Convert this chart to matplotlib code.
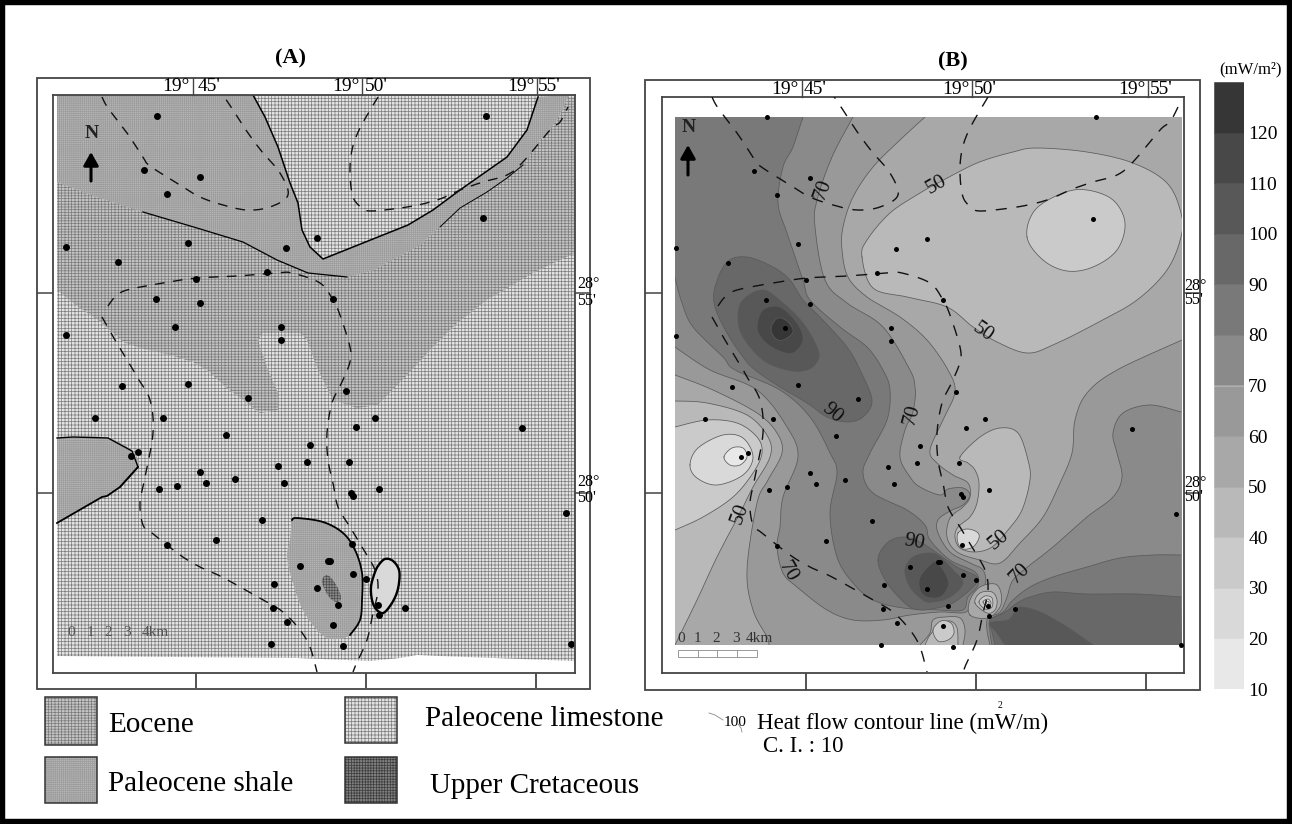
import numpy as np
import matplotlib
matplotlib.use("Agg")
import matplotlib.pyplot as plt
from matplotlib.patches import Polygon, Rectangle

plt.rcParams['font.family'] = ['Liberation Serif', 'DejaVu Serif']
plt.rcParams['hatch.linewidth'] = 0.5

# ---- map grid data (sheet grid units) ----
WELL_X = [157,144,200,167,317,286,188,66,118,267,196,156,200,175,281,281,66,486,483,333,122,188,248,95,163,226,
          310,307,278,138,131,200,206,235,284,159,177,262,216,167,300,274,317,273,287,271,328,346,375,356,522,
          349,379,351,353,566,352,330,353,366,338,378,379,405,333,343,571]
WELL_Y = [116,170,177,194,238,248,243,247,262,272,279,299,303,327,327,340,335,116,218,299,386,384,398,418,418,435,
          445,462,466,452,456,472,483,479,483,489,486,520,540,545,566,584,588,608,622,644,561,391,418,427,428,
          462,489,493,496,513,544,561,574,579,605,605,615,608,625,646,644]

DASH_1 = [(102,97),(108,108),(127,133),(143,157),(150,166),(180,185),(200,197),(223,205),(247,210),(270,207),(288,195),
          (280,173),(263,153),(248,133),(235,113),(223,95)]
DASH_2 = [(378,97),(360,128),(352,150),(350,173),(353,197),(362,208),(370,211),(393,209),(418,205),(440,199),(460,190),
          (483,182),(507,175),(523,162),(550,130),(560,122),(568,107)]
DASH_3 = [(108,306),(115,297),(127,290),(163,283),(197,278),(237,276),(277,273),(292,273),(320,283),(333,300),(340,315),
          (350,347),(350,362),(342,382),(332,403),(327,433),(328,460),(333,483),(338,507),(350,527),(362,547),(375,570),
          (378,590),(373,613),(367,640),(357,662),(353,672)]
DASH_4 = [(102,317),(115,340),(132,368),(137,377),(150,400),(153,433),(145,477),(140,503),(143,525),(152,533),(180,555),
          (200,567),(222,577),(263,600),(283,612),(300,630),(310,647),(317,672)]

LIME_OUT = [(57,95),(575,95),(575,661),(440,656),(417,655),(400,658),(370,661),(297,658),(57,656)]
EOC_TOP = [(57,182),(97,197),(143,212),(197,228),(243,242),(277,260),(308,273),(347,277),(373,270),(417,247),(440,227),
           (460,208),(487,192),(507,178),(523,165),(540,140),(557,120),(568,97)]
EOC_BOT = [(575,97),(575,253),(533,273),(487,300),(457,323),(430,350),(412,370),(378,405),(357,408),(333,400),(318,370),
           (307,340),(300,333),(263,333),(258,340),(268,370),(278,393),(278,410),(260,413),(227,388),(207,370),(193,362),
           (170,355),(140,348),(123,342),(102,323),(73,303),(57,290)]
SHALE_R = [(253,95),(265,117),(278,147),(290,183),(298,203),(302,230),(310,247),(323,259),(408,225),(433,210),(460,190),
           (507,157),(527,130),(538,97)]
SHALE_LOW = [(568,95),(568,97),(557,120),(540,140),(523,165),(507,178),(487,192),(460,208),(440,227),(417,247),(373,270),
             (347,277),(308,273),(277,260),(243,242),(197,228),(143,212),(97,197),(57,182)]
LAKE = [(57,438),(73,437),(108,438),(132,451),(138,467),(120,487),(107,496),(102,497),(57,523)]
CENTRE = [(292,520),(297,518),(323,522),(343,533),(355,550),(362,573),(362,600),(360,620),(350,635),(333,639),(320,633),
          (303,610),(293,583),(287,557),(290,540)]
CRET = [(322,580),(327,575),(335,583),(341,597),(337,602),(330,598),(324,588)]
OVAL = [(385,559),(393,561),(399,570),(399,583),(396,595),(390,606),(383,613),(376,609),(372,600),(371,587),(374,575),(378,566)]

# heat-flow contours (panel B grid)
C60_NE = [(1182,340),(1117,370),(1087,393),(1075,420),(1072,453),(1060,483),(1043,517),(1020,543),(1000,563),(980,560),
          (957,552),(947,537),(950,518),(963,507),(970,497),(968,483),(953,475),(937,463),(930,450),(943,420),(955,392),
          (948,370),(927,340),(900,317),(867,297),(848,277),(842,250),(843,227),(853,197),(873,167),(900,140),(925,117)]
C50_NE = [(862,257),(873,288),(907,297),(947,307),(973,327),(997,342),(1027,353),(1053,345),(1097,323),(1137,300),(1167,270),
          (1181,237),(1181,213),(1167,183),(1133,163),(1087,152),(1037,148),(1013,152),(977,163),(940,182),(920,193),(890,213),(867,240)]
C40_NE = [(1027,237),(1035,210),(1063,193),(1087,190),(1113,200),(1125,223),(1117,250),(1093,267),(1067,271),(1043,260)]
C70_W = [(853,117),(832,157),(817,200),(815,227),(825,280),(847,303),(883,327),(910,370),(915,387),(915,400),(912,415),(905,430),
         (900,457),(910,477),(920,487),(940,495),(948,489),(963,488),(970,495),(963,505),(950,511),(938,520),(938,533),(950,552),
         (970,563),(983,570),(985,585),(972,597),(966,612),(940,612),(910,615),(883,620),(853,620),(827,610),(797,587),(783,573),
         (777,547),(780,527),(783,497),(798,457),(787,427),(757,390),(710,370),(675,347)]
C80_W = [(803,117),(793,147),(783,167),(778,203),(787,233),(803,280),(810,300),(840,327),(867,347),(883,370),(890,390),(887,420),
         (870,453),(863,473),(873,493),(907,510),(925,525),(930,540),(950,560),(975,572),(978,585),(968,597),(963,610),(940,610),
         (903,608),(873,600),(853,583),(837,557),(830,513),(837,473),(830,453),(810,417),(780,390),(735,370),(723,357),(693,327),
         (682,303),(675,278)]
C90_NW = [(715,287),(715,307),(727,333),(743,357),(755,370),(780,387),(807,403),(827,417),(847,422),(863,417),(872,400),(860,370),
          (847,347),(820,317),(803,300),(790,280),(773,267),(747,257),(727,262)]
C100_NW = [(738,317),(743,300),(763,290),(783,303),(803,323),(817,347),(818,360),(807,370),(787,370),(763,360),(743,337)]
C110_NW = [(757,327),(763,310),(780,307),(797,323),(803,340),(793,353),(777,350),(763,340)]
C120_NW = [(771,328),(778,318),(788,322),(793,332),(783,340),(775,338)]
C90_S = [(878,560),(887,543),(903,537),(920,542),(937,553),(957,567),(977,577),(973,587),(953,603),(937,608),(920,610),(907,605),(887,583)]
C100_S = [(905,570),(913,557),(930,553),(940,557),(953,570),(963,583),(950,597),(933,602),(923,600),(910,587)]
C110_S = [(920,577),(930,565),(937,562),(947,577),(948,587),(940,597),(927,597),(920,590)]
C60_W = [(675,375),(713,390),(757,413),(777,433),(782,453),(768,480),(757,503),(747,570),(753,610),(767,637),(769,645)]
C50_W = [(675,401),(707,403),(747,415),(768,437),(770,457),(753,487),(740,513),(717,557),(697,600),(675,645)]
C40_W = [(675,427),(707,420),(737,423),(757,437),(762,453),(753,473),(733,497),(703,517),(675,530)]
C30_W = [(690,465),(698,448),(723,435),(743,438),(753,457),(743,475),(717,485),(697,478)]
C20_W = [(724,457),(732,448),(743,448),(747,457),(740,465),(730,465)]
C70_SE = [(1181,412),(1150,405),(1123,413),(1113,433),(1117,453),(1122,477),(1113,497),(1087,517),(1053,547),(1030,565),(1013,580),
          (1007,597),(1000,612),(988,618),(987,630),(990,645)]
C80_SE = [(1181,555),(1153,555),(1120,558),(1087,567),(1053,577),(1030,587),(1013,600),(1003,612),(990,620),(990,632),(992,645)]
C90_SE = [(1181,597),(1137,594),(1087,594),(1053,592),(1030,597),(1017,603),(1008,610),(1000,615),(990,620),(992,632),(995,645)]
C100_SE = [(1093,645),(1067,627),(1040,612),(1020,607),(1015,612),(1008,620),(990,623),(997,633),(1005,645)]
C50_C = [(960,457),(980,437),(1000,428),(1018,433),(1028,460),(1030,480),(1022,510),(1008,530),(992,547),(975,552),(960,548),
         (955,537),(958,527),(970,517),(977,503),(979,483),(975,470),(968,463)]
C40_C = [(958,533),(967,529),(977,532),(979,538),(973,547),(963,549),(958,543)]
RING_60 = [(970,615),(970,600),(980,587),(995,584),(1001,593),(1000,607),(988,618)]
RING_50 = [(975,603),(980,593),(992,592),(997,600),(995,610),(987,613)]
RING_40 = [(979,602),(985,596),(992,598),(992,607),(985,609)]
RING_30 = [(983,602),(988,599),(991,603),(988,607)]
RING_20 = [(986,602),(989,602),(988,605)]
C60_S = [(920,645),(930,633),(933,620),(945,617),(960,618),(965,630),(963,645)]
C50_S = [(925,645),(930,635),(940,625),(950,621),(957,628),(958,645)]
C40_S = [(933,630),(941,621),(951,623),(954,633),(948,640),(938,641)]

BAND_LOW = [10,20,30,40,50,60,70,80,90,100,110,120]
BAND_GREY = ['#e8e8e8','#d9d9d9','#cacaca','#b9b9b9','#a8a8a8','#999999','#8a8a8a','#797979','#686868','#585858','#484848','#363636']
CB_LABELS = [10,20,30,40,50,60,70,80,90,100,110,120]

CONTOUR_LABELS = [('70',823,190,70),('50',936,185,30),('50',983,332,-35),('90',832,413,-40),('70',912,415,75),
                  ('50',740,514,70),('70',788,572,-60),('90',914,542,-10),('50',999,540,40),('70',1020,573,45)]
TICK_A = [196,366,536]
TICK_Y = [293,493]
SHIFT = 610

def smooth(pts, closed=False, n=10):
    p = np.asarray(pts, float)
    if closed:
        q = np.vstack([p[-1], p, p[0], p[1]])
    else:
        q = np.vstack([p[0], p, p[-1]])
    out = []
    for i in range(1, len(q)-2):
        t = np.linspace(0, 1, n, endpoint=False)[:, None]
        a, b, c, d = q[i-1], q[i], q[i+1], q[i+2]
        out.append(0.5*(2*b+(c-a)*t+(2*a-5*b+4*c-d)*t**2+(3*b-a-3*c+d)*t**3))
    out.append(q[-2][None])
    return np.vstack(out)

fig = plt.figure(figsize=(12.92, 8.24), dpi=100, facecolor='white')
def px_axes(l, t, r, b, **kw):
    return fig.add_axes([l/1292, 1-b/824, (r-l)/1292, (b-t)/824], **kw)

over = px_axes(0, 0, 1292, 824, zorder=5)
over.set_xlim(0, 1292); over.set_ylim(824, 0); over.axis('off'); over.patch.set_alpha(0)

def frame(ax, xl, yl, ll, rl, bl):
    ax.set_xlim(*xl); ax.set_ylim(*yl)
    ax.set_xticks(TICK_A); ax.set_xticklabels([])
    ax.set_yticks(TICK_Y); ax.set_yticklabels([])
    ax.tick_params(axis='x', length=bl*0.72, width=1.3, color='#444444', direction='out')
    ax.tick_params(axis='y', length=ll*0.72, width=1.1, color='#444444', direction='out', right=True)
    for s in ax.spines.values():
        s.set_linewidth(1.3); s.set_color('#444444')

# ---- panel A ----
LIME = dict(facecolor='#e2e2e2', edgecolor='#7c7c7c', hatch='+++++', lw=0)
EOC = dict(facecolor='#c4c4c4', edgecolor='#7a7a7a', hatch='+++++-', lw=0)
SHA = dict(facecolor='#b6b6b6', edgecolor='#9c9c9c', hatch='++++++++', lw=0)
CRE = dict(facecolor='#8c8c8c', edgecolor='#4c4c4c', hatch='++++++', lw=0)

a = px_axes(53, 95, 575, 673)
frame(a, (53, 575), (673, 95), 16, 15, 15)
a.add_patch(Polygon(LIME_OUT, **LIME))
a.add_patch(Polygon(np.vstack([EOC_TOP, EOC_BOT]), **EOC))
shale_top = np.vstack([[(57,95)], SHALE_R, SHALE_LOW])
a.add_patch(Polygon(shale_top, **SHA))
a.add_patch(Polygon(smooth(LAKE), **SHA))
a.add_patch(Polygon(smooth(CENTRE, True), **SHA))
a.add_patch(Polygon(smooth(CRET, True), **CRE))
a.add_patch(Polygon(smooth(OVAL, True), facecolor='#d9d9d9', edgecolor='black', lw=1.7))
a.plot(*np.array(SHALE_R).T, color='black', lw=1.1)
a.plot(*np.array(SHALE_LOW[11:17]).T, color='black', lw=0.9)
a.plot(*np.array(SHALE_LOW[4:9]).T, color='black', lw=0.7)
a.plot(*np.array(LAKE[:6]).T, color='black', lw=1.0)
a.plot(*np.array(LAKE[4:]).T, color='black', lw=1.3)
a.plot(*smooth(CENTRE[:9]).T, color='black', lw=1.3)
a.plot(*np.array(CENTRE[14:]).T, color='black', lw=1.3)
for d in (DASH_1, DASH_2, DASH_3, DASH_4):
    a.plot(*smooth(d).T, color='#111111', lw=1.0, ls=(0, (7, 6)))
a.plot(WELL_X, WELL_Y, 'o', color='black', ms=5.0, mew=0)

# ---- panel B ----
b = px_axes(662, 97, 1184, 673)
frame(b, (52, 574), (673, 97), 17, 16, 17)
clip = Rectangle((675-SHIFT, 117), 507, 528, transform=b.transData, fc='none', ec='none')
b.add_patch(Rectangle((675-SHIFT, 117), 507, 528, facecolor='#999999', edgecolor='none', zorder=1))
b.add_patch(clip)

def region(curve, value, corners=None, closed=False):
    c = smooth(curve, closed) - [SHIFT, 0]
    poly = c if corners is None else np.vstack([c, np.array(corners, float) - [SHIFT, 0]])
    col = BAND_GREY[BAND_LOW.index(value)]
    z = region.z = region.z + 1
    p = Polygon(poly, facecolor=col, edgecolor='none', zorder=z)
    b.add_patch(p); p.set_clip_path(clip)
    ln, = b.plot(c[:, 0], c[:, 1], color='#5a5a5a', lw=0.55, zorder=z+0.5)
    if closed:
        ln.set_data(np.r_[c[:, 0], c[0, 0]], np.r_[c[:, 1], c[0, 1]])
    ln.set_clip_path(clip)
region.z = 2

region(C60_NE, 50, [(1182,117)])
region(C50_NE, 40, closed=True)
region(C40_NE, 30, closed=True)
region(C70_W, 70, [(675,117)])
region(C80_W, 80, [(675,117)])
region(C90_NW, 90, closed=True)
region(C100_NW, 100, closed=True)
region(C110_NW, 110, closed=True)
region(C120_NW, 120, closed=True)
region(C90_S, 90, closed=True)
region(C100_S, 100, closed=True)
region(C110_S, 110, closed=True)
region(C60_W, 50, [(675,645)])
region(C50_W, 40)
region(C40_W, 30)
region(C30_W, 20, closed=True)
region(C20_W, 10, closed=True)
region(C70_SE, 70, [(1182,645)])
region(C80_SE, 80, [(1182,645)])
region(C90_SE, 90, [(1182,645)])
region(C100_SE, 100)
region(C50_C, 40, closed=True)
region(C40_C, 20, closed=True)
region(RING_60, 50, closed=True)
region(RING_50, 40, closed=True)
region(RING_40, 30, closed=True)
region(RING_30, 20, closed=True)
region(RING_20, 10, closed=True)
region(C60_S, 50)
region(C50_S, 40)
region(C40_S, 30, closed=True)

for d in (DASH_1, DASH_2, DASH_3, DASH_4):
    b.plot(*smooth(d).T, color='#111111', lw=1.0, ls=(0, (8, 7)), zorder=60)
b.plot(WELL_X, np.array(WELL_Y)+1, 'o', color='black', ms=3.6, mew=0, zorder=61)
for t, x, y, r in CONTOUR_LABELS:
    b.text(x-SHIFT, y, t, fontsize=15, rotation=r, ha='center', va='center', rotation_mode='anchor', zorder=62, color='#111111')

# ---- colour scale ----
cb = px_axes(1214, 82, 1244, 689)
cb.bar([0]*12, [10]*12, bottom=BAND_LOW, width=1, color=BAND_GREY, edgecolor=BAND_GREY, linewidth=0.4, align='center')
cb.set_xlim(-0.5, 0.5); cb.set_ylim(10, 130)
cb.set_xticks([]); cb.set_yticks(CB_LABELS)
cb.yaxis.tick_right()
cb.tick_params(axis='y', length=0, pad=3, labelsize=14)
for s in cb.spines.values():
    s.set_visible(False)
over.text(1250, 69, '(mW/m²)', fontsize=12, ha='center', va='center')

# ---- frames and annotations ----
over.add_patch(Rectangle((0, 0), 1292, 824, fill=False, ec='black', lw=7.5))
for (l, t, r, bt) in [(37, 78, 590, 689), (645, 80, 1200, 690)]:
    over.add_patch(Rectangle((l, t), r-l, bt-t, fill=False, ec='#444444', lw=1.3))
for x in (193, 362, 537):
    over.plot([x, x], [78, 95], color='#444444', lw=1.0)
for x in (802, 972, 1148):
    over.plot([x, x], [80, 97], color='#444444', lw=1.0)

for txt, x, y, ha in [("19°",190,86,'right'),("45'",198,86,'left'),("19°",360,86,'right'),("50'",365,86,'left'),
                      ("19°",535,86,'right'),("55'",538,86,'left'),("19°",799,89,'right'),("45'",804,89,'left'),
                      ("19°",970,89,'right'),("50'",974,89,'left'),("19°",1146,89,'right'),("55'",1150,89,'left')]:
    over.text(x, y, txt, fontsize=14, ha=ha, va='center')
for txt, x, y in [("28°",577,284),("55'",577,301),("28°",577,482),("50'",577,498),
                  ("28°",1184,286),("55'",1184,300),("28°",1184,483),("50'",1184,497)]:
    over.text(x, y, txt, fontsize=11.5, ha='left', va='center')
over.text(290, 58, '(A)', fontsize=16, fontweight='bold', ha='center', va='center')
over.text(953, 61, '(B)', fontsize=16, fontweight='bold', ha='center', va='center')

for x, ytxt, y0, y1 in [(91, 133, 181, 152), (688, 127, 175, 145)]:
    over.text(x+1, ytxt, 'N', fontsize=14, fontweight='bold', ha='center', va='center', color='#222222')
    over.annotate('', xy=(x, y1), xytext=(x, y0), arrowprops=dict(arrowstyle='-|>,head_width=0.45,head_length=0.8', color='black', lw=2.2, shrinkA=0, shrinkB=0))

for txt, x in [('0',71),('1',90),('2',108),('3',127),('4km',155)]:
    over.text(x, 633, txt, fontsize=11, ha='center', va='center', color='#555555')
for txt, x in [('0',681),('1',697),('2',716),('3',736),('4km',759)]:
    over.text(x, 639, txt, fontsize=11, ha='center', va='center', color='#333333')
over.add_patch(Rectangle((678, 650), 79, 7, fc='white', ec='#999999', lw=0.7))
for x in (698, 717, 737):
    over.plot([x, x], [650, 657], color='#999999', lw=0.7)

# ---- legend ----
LEG = [(45, 697, 52, 48, EOC, 'Eocene', 108, 725), (45, 757, 52, 46, SHA, 'Paleocene shale', 108, 784),
       (345, 697, 52, 46, LIME, 'Paleocene limestone', 425, 719), (345, 757, 52, 46,
        dict(facecolor='#808080', edgecolor='#3c3c3c', hatch='++++++', lw=0), 'Upper Cretaceous', 430, 786)]
for x, y, w, h, st, lab, tx, ty in LEG:
    over.add_patch(Rectangle((x, y), w, h, **st))
    over.add_patch(Rectangle((x, y), w, h, fill=False, ec='#333333', lw=1.1))
    over.text(tx, ty, lab, fontsize=21, ha='left', va='center')
over.plot([709, 715, 723], [713, 715, 720], color='#888888', lw=0.6)
over.plot([738, 741, 742], [724, 728, 732], color='#888888', lw=0.6)
over.text(724, 722, '100', fontsize=11, ha='left', va='center')
over.text(757, 723, 'Heat flow contour line (mW/m)', fontsize=16.5, ha='left', va='center')
over.text(1000, 706, '2', fontsize=7, ha='center', va='center')
over.text(763, 747, 'C. I. : 10', fontsize=16.5, ha='left', va='center')

fig.savefig('out.png', dpi=100)
